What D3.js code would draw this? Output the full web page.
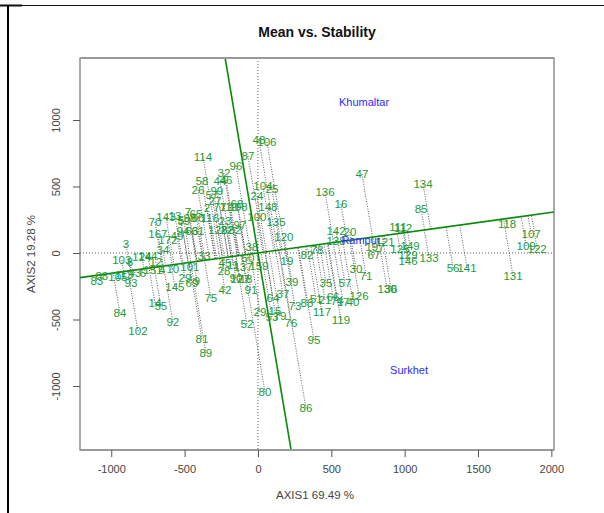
<!DOCTYPE html>
<html><head><meta charset="utf-8">
<script src="https://cdn.jsdelivr.net/npm/d3@7"></script>
<style>html,body{margin:0;padding:0;background:#fff}svg{display:block}text{font-family:"Liberation Sans",Arial,sans-serif}</style>
</head><body><div id="c"></div>
<script>
const genoLabels=["48","106","114","87","96","32","44","46","58","26","99","57","27","104","25","24","148","100","135","120","38","2","77","110","108","68","116","23","128","22","82","97","70","143","13","5","59","7","98","65","60","94","63","61","49","167","172","34","3","103","8","124","144","12","10","83","88","105","113","93","43","6","151","4","145","84","102","14","55","92","75","42","81","89","29","69","9","101","33","52","91","29","50","45","28","11","137","159","90","127","18","19","39","37","64","15","53","79","76","73","88","51","21","66","74","17","40","126","35","57","117","119","95","82","78","30","71","142","20","138","47","136","16","134","85","111","112","121","197","67","125","149","129","146","133","56","141","118","107","109","122","131","130","36","80","86"];
const genoAxis1=[7,61,-375,-68,-150,-232,-259,-218,-382,-409,-280,-314,-293,34,95,-7,68,-7,123,177,-41,-348,-259,-198,-136,-143,-327,-225,-273,-211,-157,-123,-702,-627,-566,-525,-505,-477,-464,-423,-409,-511,-450,-409,-552,-682,-614,-648,-900,-928,-873,-791,-750,-696,-580,-1098,-1064,-955,-914,-866,-839,-784,-716,-655,-566,-941,-818,-702,-662,-580,-321,-225,-382,-355,-498,-450,-416,-464,-368,-75,-48,14,-68,-225,-232,-170,-102,7,-150,-123,-82,198,232,170,102,116,95,150,225,252,334,396,457,512,539,580,648,689,464,593,436,566,382,334,402,668,737,532,627,532,709,457,566,1125,1112,955,989,866,798,791,968,1037,1023,1023,1166,1330,1425,1698,1862,1828,1903,1739,880,907,48,327];
const genoAxis2=[850,835,722,729,654,601,541,549,541,474,466,436,391,504,481,429,346,271,233,120,45,338,346,346,346,368,263,241,173,173,173,211,233,271,278,248,241,308,263,293,263,165,165,165,128,143,98,23,68,-53,-68,-30,-23,-68,-120,-211,-173,-180,-165,-226,-150,-150,-128,-128,-256,-451,-587,-376,-398,-519,-338,-278,-647,-752,-188,-226,-211,-105,-23,-534,-278,-444,-38,-75,-135,-90,-105,-98,-188,-195,-195,-60,-218,-308,-338,-436,-481,-474,-526,-398,-376,-346,-353,-331,-361,-368,-368,-323,-226,-226,-444,-504,-654,-15,23,-120,-173,165,158,90,594,459,368,519,331,195,188,83,45,-15,30,53,-15,-60,-38,-113,-113,218,143,53,30,-173,-271,-271,-1045,-1166];
const envLabels=["Khumaltar","Rampur","Surkhet"];
const envAxis1=[723,702,1030];
const envAxis2=[1136,98,-880];
const xTicks=[-1000,-500,0,500,1000,1500,2000];
const yTicks=[-1000,-500,0,500,1000];
const xDomain=[-1213,2018];
const yDomain=[-1481,1466];
const aecSlope=0.1525;
const titleText="Mean vs. Stability",xTitle="AXIS1 69.49 %",yTitle="AXIS2 19.28 %";

const W=604,H=513,L=80,R=554,T=58,B=450;
const svg=d3.select("#c").append("svg").attr("width",W).attr("height",H);
const x=d3.scaleLinear().domain(xDomain).range([L,R]);
const y=d3.scaleLinear().domain(yDomain).range([B,T]);
// outer page frame
svg.append("line").attr("x1",0).attr("x2",W).attr("y1",5.5).attr("y2",5.5).attr("stroke","#111").attr("stroke-width",1);
svg.append("line").attr("x1",0).attr("x2",22).attr("y1",5.5).attr("y2",5.5).attr("stroke","#111").attr("stroke-width",2);
svg.append("line").attr("x1",8).attr("x2",8).attr("y1",5).attr("y2",H).attr("stroke","#000").attr("stroke-width",2);

svg.append("clipPath").attr("id","p").append("rect").attr("x",L).attr("y",T).attr("width",R-L).attr("height",B-T);
const g=svg.append("g").attr("clip-path","url(#p)");
// reference dotted axes
g.append("line").attr("x1",x(0)).attr("x2",x(0)).attr("y1",T).attr("y2",B).attr("stroke","#333").attr("stroke-width",.8).attr("stroke-dasharray","1 2");
g.append("line").attr("x1",L).attr("x2",R).attr("y1",y(0)).attr("y2",y(0)).attr("stroke","#333").attr("stroke-width",.8).attr("stroke-dasharray","1 2");
// projections on the AEC abscissa
const m=aecSlope;
const geno=genoLabels.map((l,i)=>({l,a:genoAxis1[i],b:genoAxis2[i]}));
g.selectAll("line.proj").data(geno).join("line").attr("class","proj")
 .attr("x1",d=>x(d.a)).attr("y1",d=>y(d.b))
 .attr("x2",d=>x((d.a+m*d.b)/(1+m*m))).attr("y2",d=>y(m*(d.a+m*d.b)/(1+m*m)))
 .attr("stroke","#333").attr("stroke-width",.8).attr("stroke-dasharray","1 1.5");
// AEC lines
g.append("line").attr("x1",x(xDomain[0])).attr("y1",y(m*xDomain[0])).attr("x2",x(xDomain[1])).attr("y2",y(m*xDomain[1])).attr("stroke","#0a8a0a").attr("stroke-width",1.6);
g.append("line").attr("x1",x(-yDomain[1]*m)).attr("y1",y(yDomain[1])).attr("x2",x(-yDomain[0]*m)).attr("y2",y(yDomain[0])).attr("stroke","#0a8a0a").attr("stroke-width",1.6);
// labels (group opacity keeps the text antialiasing grey, so the green stays green)
const lab=svg.append("g").attr("opacity",0.99);
lab.selectAll("text.g").data(geno).join("text").attr("class","g").attr("x",d=>x(d.a)).attr("y",d=>y(d.b)).attr("dy","0.36em").attr("text-anchor","middle").attr("font-size",11.5).attr("fill","#1a9a35").text(d=>d.l);
lab.selectAll("text.e").data(envLabels).join("text").attr("class","e").attr("x",(d,i)=>x(envAxis1[i])).attr("y",(d,i)=>y(envAxis2[i])).attr("dy","0.36em").attr("text-anchor","middle").attr("font-size",11).attr("fill","#2a2aff").text(d=>d);
// box and axes
svg.append("rect").attr("x",L).attr("y",T).attr("width",R-L).attr("height",B-T).attr("fill","none").attr("stroke","#555").attr("stroke-width",1);
svg.append("line").attr("x1",L).attr("x2",R).attr("y1",T).attr("y2",T).attr("stroke","#999").attr("stroke-width",2);
svg.append("line").attr("x1",L).attr("x2",R).attr("y1",B).attr("y2",B).attr("stroke","#999").attr("stroke-width",2);
const ax=svg.append("g").attr("transform",`translate(0,${B})`).call(d3.axisBottom(x).tickValues(xTicks).tickSize(7).tickPadding(8).tickFormat(String));
const ay=svg.append("g").attr("transform",`translate(${L},0)`).call(d3.axisLeft(y).tickValues(yTicks).tickSize(7).tickPadding(8).tickFormat(String));
[ax,ay].forEach(a=>{a.select(".domain").remove();a.selectAll("line").attr("stroke","#555");a.selectAll("text").attr("font-size",11).attr("fill","#444").attr("font-family","Liberation Sans, Arial, sans-serif");});
ay.selectAll("text").attr("text-anchor","middle").attr("dy",0).attr("x",0).attr("y",0).attr("transform","translate(-20,0) rotate(-90)");
svg.append("text").attr("x",317).attr("y",37).attr("text-anchor","middle").attr("font-size",14).attr("font-weight","bold").attr("fill","#111").text(titleText);
svg.append("text").attr("x",315).attr("y",499).attr("text-anchor","middle").attr("font-size",11.5).attr("fill","#444").text(xTitle);
svg.append("text").attr("transform","translate(35,254) rotate(-90)").attr("text-anchor","middle").attr("font-size",11.5).attr("fill","#444").text(yTitle);
</script></body></html>
